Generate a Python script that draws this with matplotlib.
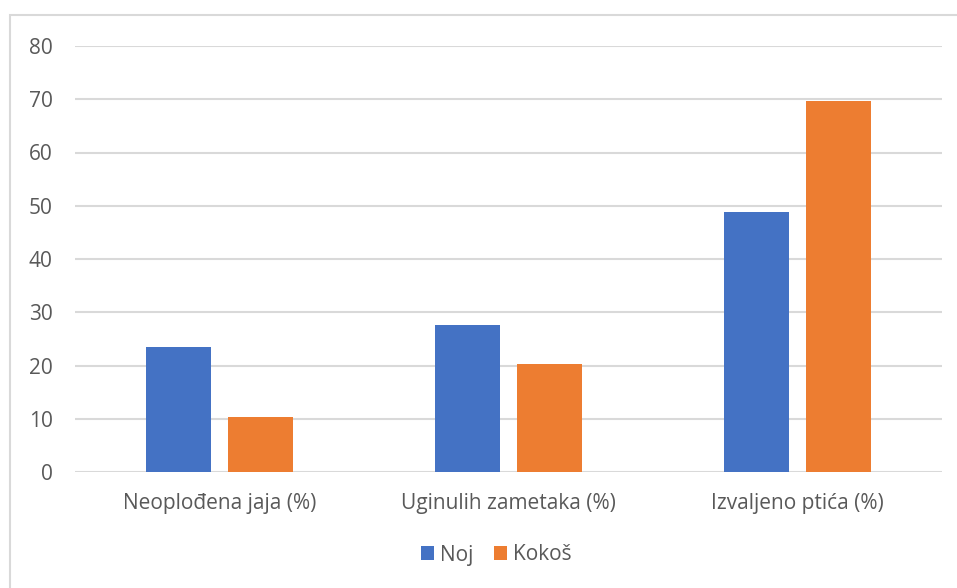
import matplotlib
matplotlib.use("Agg")
import matplotlib.pyplot as plt
import numpy as np
from matplotlib.patches import Rectangle

categories = ["Neoplođena jaja (%)", "Uginulih zametaka (%)", "Izvaljeno ptića (%)"]
noj = [23.4, 27.6, 48.9]
kokos = [10.3, 20.2, 69.6]
series_names = ["Noj", "Kokoš"]

plt.rcParams['font.family'] = ['Open Sans', 'DejaVu Sans']
W, H = 957, 588
fig = plt.figure(figsize=(W/100, H/100), dpi=100)
fig.patch.set_facecolor('white')

# outer chart border (cropped at right/bottom)
fig.add_artist(Rectangle((10/W, -0.05), 1.2, (H - 15)/H + 0.05, transform=fig.transFigure,
                         fill=False, edgecolor='#D9D9D9', linewidth=1.5))

x0, x1 = 75, 942
y0, y1 = 472, 46
ax = fig.add_axes([x0/W, 1 - y0/H, (x1 - x0)/W, (y0 - y1)/H])
x = np.arange(len(categories))
w = 0.225
off = 0.143
ax.bar(x - off, noj, w, color='#4472C4', label=series_names[0], zorder=3)
ax.bar(x + off, kokos, w, color='#ED7D31', label=series_names[1], zorder=3)
ax.set_xlim(-0.5, 2.5)
ax.set_ylim(0, 80)
ax.set_yticks(range(0, 81, 10))
ax.yaxis.grid(True, color='#D9D9D9', linewidth=1.5, zorder=0)
ax.set_axisbelow(True)
for s in ax.spines.values():
    s.set_visible(False)
ax.tick_params(axis='both', length=0, colors='#595959', labelsize=15)
ax.tick_params(axis='y', pad=16)
ax.tick_params(axis='x', pad=15)
ax.set_xticks(x)
ax.set_xticklabels(categories)
leg = ax.legend(loc='center', bbox_to_anchor=((496 - x0)/(x1 - x0), -(555 - y0)/(y0 - y1)),
                ncol=2, frameon=False, fontsize=15, handlelength=0.65, handleheight=0.65,
                handletextpad=0.25, columnspacing=1.0)
for t in leg.get_texts():
    t.set_color('#595959')
fig.savefig('out.png', dpi=100)
